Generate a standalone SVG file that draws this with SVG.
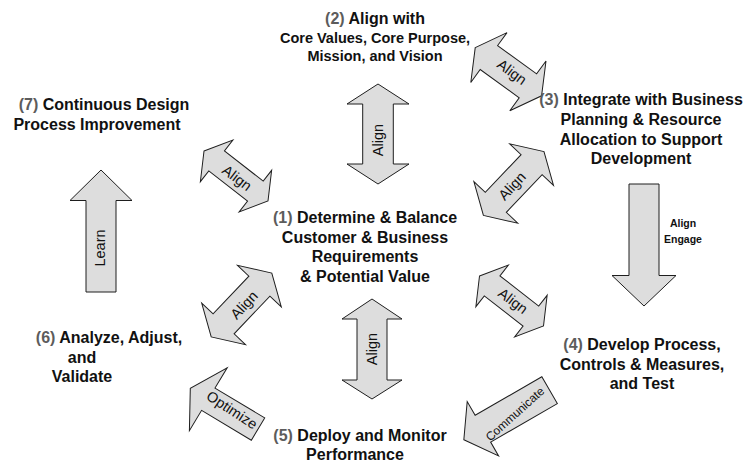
<svg xmlns="http://www.w3.org/2000/svg" width="744" height="463" viewBox="0 0 744 463">
  <style>
    .arrow { fill: #dddddd; stroke: #1e1e1e; stroke-width: 1; stroke-linejoin: miter; }
    .step { font-family: "Liberation Sans", Arial, sans-serif; font-weight: bold; font-size: 16px; fill: #111111; text-anchor: middle; }
    .small { font-size: 14.5px; }
    .num { fill: #5c5c5c; }
    .lbl { font-family: "Liberation Sans", Arial, sans-serif; font-size: 14.5px; fill: #111111; text-anchor: middle; dominant-baseline: central; }
    .tag { font-family: "Liberation Sans", Arial, sans-serif; font-weight: bold; font-size: 10.5px; fill: #111111; text-anchor: middle; }
  </style>
  <defs>
    <!-- double-headed arrows laid along the x axis, centred on the origin -->
    <path id="dblS" d="M-40.6,0 L-24.6,-26.4 L-24.6,-12.7 L24.6,-12.7 L24.6,-26.4 L40.6,0 L24.6,26.4 L24.6,12.7 L-24.6,12.7 L-24.6,26.4 Z"/>
    <path id="dblM" d="M-41,0 L-24.1,-30.8 L-24.1,-14.8 L24.1,-14.8 L24.1,-30.8 L41,0 L24.1,30.8 L24.1,14.8 L-24.1,14.8 L-24.1,30.8 Z"/>
    <path id="dblL" d="M-44,0 L-26,-30.2 L-26,-14.5 L26,-14.5 L26,-30.2 L44,0 L26,30.2 L26,14.5 L-26,14.5 L-26,30.2 Z"/>
  </defs>
  <rect width="744" height="463" fill="#ffffff"/>

  <g id="connectors">
    <!-- (1) <-> (2) -->
    <g id="c-1-2">
      <path class="arrow" d="M378,84 L409,104 L393.3,104 L393.3,164 L409,164 L378,184 L347,164 L362.7,164 L362.7,104 L347,104 Z"/>
      <text class="lbl" transform="translate(378,140) rotate(-90)">Align</text>
    </g>
    <!-- (2) <-> (3) -->
    <g id="c-2-3">
      <use href="#dblM" class="arrow" transform="translate(508.4,71.7) rotate(36)"/>
      <text class="lbl" transform="translate(512,72) rotate(36)">Align</text>
    </g>
    <!-- (1) <-> (7) -->
    <g id="c-1-7">
      <use href="#dblS" class="arrow" transform="translate(236,176) rotate(38)"/>
      <text class="lbl" transform="translate(237,178) rotate(37)">Align</text>
    </g>
    <!-- (1) <-> (3) -->
    <g id="c-1-3">
      <use href="#dblL" class="arrow" transform="translate(513.7,183.5) rotate(-46.5)"/>
      <text class="lbl" transform="translate(512,186) rotate(-47)">Align</text>
    </g>
    <!-- (1) <-> (6) -->
    <g id="c-1-6">
      <use href="#dblL" class="arrow" transform="translate(241.5,305) rotate(-46.5)"/>
      <text class="lbl" transform="translate(244,305) rotate(-47)">Align</text>
    </g>
    <!-- (1) <-> (4) -->
    <g id="c-1-4">
      <use href="#dblS" class="arrow" transform="translate(511.5,301) rotate(38)"/>
      <text class="lbl" transform="translate(513,301) rotate(37)">Align</text>
    </g>
    <!-- (1) <-> (5) -->
    <g id="c-1-5">
      <path class="arrow" d="M372,299 L402,319 L387,319 L387,380 L402,380 L372,399 L342,380 L357,380 L357,319 L342,319 Z"/>
      <text class="lbl" transform="translate(372,349) rotate(-90)">Align</text>
    </g>
    <!-- (3) -> (4) -->
    <g id="c-3-4">
      <path class="arrow" d="M629,184 L659,184 L659,275.5 L676,275.5 L644,306 L612,275.5 L629,275.5 Z"/>
      <text class="tag" x="683" y="227">Align</text>
      <text class="tag" x="683" y="243">Engage</text>
    </g>
    <!-- (4) -> (5) -->
    <g id="c-4-5">
      <path class="arrow" transform="translate(482.9,428.7) rotate(150)" d="M22,0 L0,-31.4 L0,-15.5 L-77,-15.5 L-77,15.5 L0,15.5 L0,31.4 Z"/>
      <text class="lbl" style="font-size:12px" transform="translate(515,414) rotate(-42)">Communicate</text>
    </g>
    <!-- (5) -> (6) -->
    <g id="c-5-6">
      <path class="arrow" transform="translate(208.3,399.2) rotate(211)" d="M21,0 L0,-36.7 L0,-13 L-58,-13 L-58,13 L0,13 L0,36.7 Z"/>
      <text class="lbl" transform="translate(232,410) rotate(33)">Optimize</text>
    </g>
    <!-- (6) -> (7) -->
    <g id="c-6-7">
      <path class="arrow" d="M101,170 L132,200.5 L116,200.5 L116,292 L86,292 L86,200.5 L70,200.5 Z"/>
      <text class="lbl" transform="translate(100,248) rotate(-90)">Learn</text>
    </g>
  </g>

  <g id="node1">
    <text class="step" x="365" y="223"><tspan class="num">(1)</tspan> Determine &amp; Balance</text>
    <text class="step" x="365" y="242.5">Customer &amp; Business</text>
    <text class="step" x="365" y="262">Requirements</text>
    <text class="step" x="365" y="281.5">&amp; Potential Value</text>
  </g>
  <g id="node2">
    <text class="step" x="375" y="24"><tspan class="num">(2)</tspan> Align with</text>
    <text class="step small" x="375" y="42.5">Core Values, Core Purpose,</text>
    <text class="step small" x="375" y="60.5">Mission, and Vision</text>
  </g>
  <g id="node3">
    <text class="step" x="641" y="105"><tspan class="num">(3)</tspan> Integrate with Business</text>
    <text class="step" x="641" y="125">Planning &amp; Resource</text>
    <text class="step" x="641" y="145">Allocation to Support</text>
    <text class="step" x="641" y="164">Development</text>
  </g>
  <g id="node4">
    <text class="step" x="642" y="350"><tspan class="num">(4)</tspan> Develop Process,</text>
    <text class="step" x="642" y="369.5">Controls &amp; Measures,</text>
    <text class="step" x="642" y="389">and Test</text>
  </g>
  <g id="node5">
    <text class="step" x="360" y="440.5"><tspan class="num">(5)</tspan> Deploy and Monitor</text>
    <text class="step" x="355" y="460">Performance</text>
  </g>
  <g id="node6">
    <text class="step" x="109" y="343"><tspan class="num">(6)</tspan> Analyze, Adjust,</text>
    <text class="step" x="82" y="362.5">and</text>
    <text class="step" x="82" y="382">Validate</text>
  </g>
  <g id="node7">
    <text class="step" x="104" y="110"><tspan class="num">(7)</tspan> Continuous Design</text>
    <text class="step" x="97" y="129.5">Process Improvement</text>
  </g>
</svg>
